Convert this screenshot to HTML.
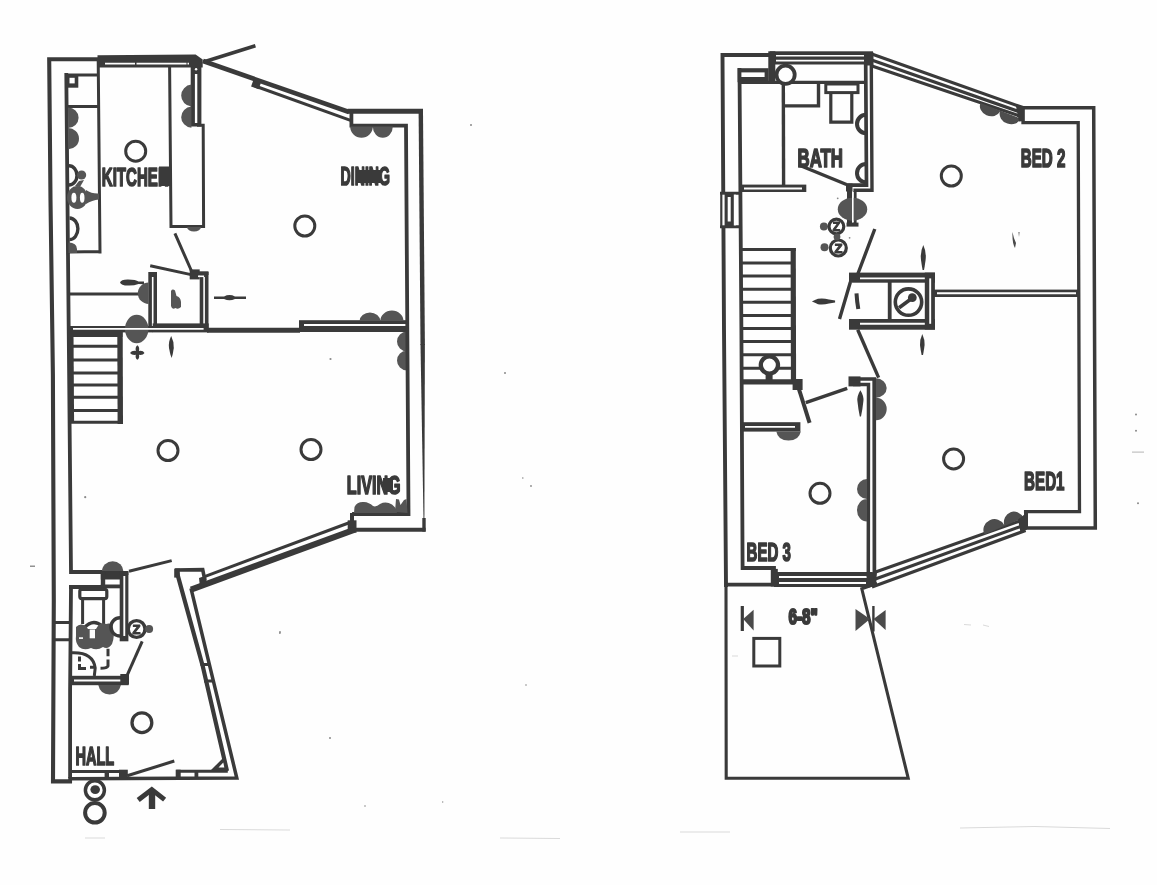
<!DOCTYPE html>
<html lang="en">
<head>
<meta charset="utf-8">
<title>Floor plans</title>
<style>
html,body{margin:0;padding:0;background:#fefefe;}
body{width:1157px;height:885px;overflow:hidden;position:relative;}
svg{position:absolute;left:0;top:0;display:block;will-change:transform;transform:translateZ(0);filter:blur(0.45px);}
.w{fill:none;stroke:#3a3a3a;stroke-width:3.8;stroke-linecap:square;stroke-linejoin:miter;}
.m{fill:none;stroke:#3a3a3a;stroke-width:3;stroke-linecap:butt;}
.t{fill:none;stroke:#3a3a3a;stroke-width:2.2;stroke-linecap:butt;}
.k{fill:none;stroke:#3a3a3a;stroke-width:4;stroke-linecap:butt;}
.b{fill:#555;stroke:none;}
.d{fill:#3a3a3a;stroke:none;}
.c{fill:#fefefe;stroke:#3a3a3a;stroke-width:3;}
.wl{fill:none;stroke:#fefefe;stroke-width:1.6;}
text{font-family:"Liberation Sans",sans-serif;font-weight:bold;font-size:25.8px;fill:#3a3a3a;stroke:#3a3a3a;stroke-width:1.7;stroke-linejoin:round;}
</style>
</head>
<body>
<svg width="1157" height="885" viewBox="0 0 1157 885">
<rect width="1157" height="885" fill="#fefefe"/>
<g id="left">
<!-- outer walls -->
<path class="w" style="stroke-width:4.1" d="M98,59.3 L49.2,59.3 L50.5,200 L52.9,375 L53.8,600 L53,781.4 L70,781.4"/>
<path class="w" style="stroke-width:3.5" d="M70,778.7 L236.8,778 L191.4,590"/>
<path class="w" d="M66.3,75 L68.9,350 L71,572 L102,572"/>
<path class="w" d="M71,587 L70.1,690 L70.1,776"/>
<!-- top wall window band -->
<path class="d" d="M97.5,55.2 L195.6,54.6 L202.7,59.4 L202.7,67.5 L97.5,67.4 Z"/>
<path class="wl" d="M105,63.6 L189,63.6" stroke-dasharray="30 1.5 50 1 8 1.5"/>
<!-- wall below corner with window -->
<rect class="d" x="190.7" y="66" width="10.7" height="60.5"/>
<path class="wl" style="stroke-width:2.4" d="M196.1,74 L196.1,123"/>
<circle cx="196.1" cy="69.3" r="1.2" fill="#fefefe"/>
<!-- left counter -->
<path class="m" d="M66,75 L99,75 M98.2,59 L100,253.5 M69,252 L100,251.6 M67,106.6 L98.5,106.6"/>
<rect class="d" x="67" y="76" width="11.3" height="11.7"/>
<rect x="69.5" y="77.8" width="5.2" height="5.6" fill="#fefefe"/>
<path class="b" d="M68,107.6 A10.6 10.2 0 0 1 68,128 A10.8 10.6 0 0 1 68.4,149.2 Z"/>
<!-- hob symbols -->
<path class="m" style="stroke-width:3.4" d="M69,165.8 A8 9.6 0 0 1 69,185"/>
<circle class="b" cx="81.6" cy="175" r="4.6"/>
<path class="b" d="M79,181 L75,186 L80,187 L84,180 Z"/>
<ellipse class="b" cx="77.4" cy="197.5" rx="10.4" ry="11.4"/>
<ellipse cx="73.9" cy="197.7" rx="2.5" ry="5" fill="#fefefe"/><ellipse cx="82.2" cy="197.7" rx="2.3" ry="5" fill="#fefefe"/>
<path class="b" d="M86,190 Q92,194 99,193.5 L99,199.5 Q92,200 86,204 Z"/>
<path class="m" style="stroke-width:3.4" d="M69.5,218 A8.4 10.8 0 0 1 69.5,239.6"/>
<path class="b" d="M68.5,242.5 A8 6 0 0 1 77,249 L77,253 L68.5,253 Z"/>
<!-- right counter -->
<path class="m" d="M169.6,66 L171,226.5 L203.6,226.5 L203.2,125.3 L197,125.3"/>
<path class="b" d="M191.4,84.6 A11.3 11 0 0 0 191.4,106.5 A11.3 10.7 0 0 0 191.4,127.8 Z"/>
<path class="b" d="M187,227 A7 4.5 0 0 0 201,227 Z"/>
<!-- ceiling lights -->
<circle class="c" cx="135.7" cy="151.2" r="10"/>
<circle class="c" cx="304.8" cy="226" r="10"/>
<circle class="c" cx="168" cy="450.5" r="10"/>
<circle class="c" cx="311" cy="449.5" r="10"/>
<circle class="c" cx="141.9" cy="722.7" r="9.9" style="stroke-width:3.3"/>
<!-- kitchen door -->
<path class="m" d="M174.9,233.4 L191.5,271 M150.2,265.7 L191,274.6"/>
<rect class="d" x="189.7" y="269.4" width="10" height="10"/>
<!-- small room -->
<rect class="d" x="148.3" y="272" width="8.7" height="58"/>
<path class="wl" d="M152.7,277 L152.7,328.5"/>
<rect class="d" x="199.7" y="272" width="8.8" height="59"/>
<path class="wl" d="M204.1,277 L204.1,328.5"/>
<rect class="d" x="190.3" y="271.3" width="18.2" height="3.7"/>
<path class="wl" d="M198,276.3 L204.1,276.3"/>
<path class="b" d="M171,291 Q172.5,288.5 175,290.5 L176.5,296 Q180.5,297 181,302 L181,307 Q178,310 175.5,308 Q172,310 171,306 Z"/>
<!-- arrows -->
<path class="d" d="M120,282.5 Q121,279.5 128,279.6 Q136,279.8 138.5,281.6 L144,281.6 L144,284.2 L138.5,284 Q134,285.8 128,285.6 Q121,285.6 120,282.5 Z"/>
<path class="d" d="M214,296.6 L224,296.4 Q229.5,293.6 235,296.4 L246,296.6 L246,299 L235,299 Q229.5,301.6 224,299 L214,299 Z"/>
<path class="d" d="M171.2,336 Q174.2,342 173.8,348 Q173,354 171.6,358 Q170,354 169,348 Q168.2,342 171.2,336 Z"/>
<path class="d" d="M137.4,345.3 Q139.8,347 139,351 Q143,350.3 144.5,352.9 Q143,355.4 139,354.8 Q139.8,358.5 137.4,359.8 Q135,358.5 135.8,354.8 Q132,355.4 130,352.9 Q132,350.3 135.8,351 Q135,347 137.4,345.3 Z"/>
<!-- shelf line and blob -->
<path class="m" d="M69,294 L140,294"/>
<path class="b" d="M148.6,282.6 A10.8 10.7 0 0 0 148.6,304 Z"/>
<!-- horizontal wall kitchen/living -->
<rect class="d" x="69" y="326" width="84" height="6.4"/>
<rect class="d" x="152.7" y="323.4" width="56" height="9"/>
<ellipse class="b" cx="136.7" cy="329" rx="11.7" ry="14.3"/>
<path class="wl" d="M73,328.9 L203.6,328.9"/>
<path class="k" style="stroke-width:5" d="M207,330.3 L300,330.3"/>
<rect class="d" x="299" y="320.2" width="107.5" height="11.8"/>
<path class="wl" style="stroke-width:2" d="M304,325 L406,325"/>
<path class="b" d="M359.6,321 A10.35 8.6 0 0 1 380.3,321 Z M380.3,321 A11.6 10.4 0 0 1 403.5,321 Z"/>
<path class="b" d="M407,331.5 A10 10 0 0 0 407,351.5 Z M407,350.5 A10 10 0 0 0 407,370.5 Z"/>
<!-- stairs -->
<path class="k" style="stroke-width:5.4" d="M120,332 L120.3,424"/>
<path class="k" style="stroke-width:5" d="M70,334.4 L122.5,334.4"/>
<path class="m" d="M70,346.2 L120,346.2 M70,360 L120,360 M70,372.9 L120,372.9 M70,385.1 L120,385.1 M70,397.3 L120,397.3 M70,410.6 L120,410.6 M70,422.2 L122.5,422.2"/>
<path class="k" style="stroke-width:5" d="M71,333 L71.6,423"/>
<!-- top-right diagonal and right walls -->
<path class="k" style="stroke-width:4.6" d="M203,61 L349,112"/>
<path class="m" style="stroke-width:3.6" d="M203.5,62 L255.4,45.7"/>
<path class="k" style="stroke-width:5" d="M347.7,111.3 L423,111.3"/>
<path class="k" style="stroke-width:4.4" d="M420.8,111 L422.7,345"/>
<path class="d" d="M420.5,344 L424.9,344 L424.4,520 L423.5,520 Z"/>
<path class="k" style="stroke-width:3.4" d="M424,518 L424,531.6"/>
<path class="k" d="M354,529.7 L425.6,529.7"/>
<path class="w" style="stroke-width:3.8" d="M351.4,112 L351.4,125.7 L406,125.7 L408.5,514 L354,514"/>
<rect class="d" x="347.7" y="520.3" width="8.8" height="12.5"/>
<path class="k" d="M352,513 L352,522"/>
<!-- upper diagonal window -->
<path class="m" d="M255,86 L350.5,120.4"/>
<rect class="d" x="252.2" y="79" width="8" height="9" transform="rotate(20 256 84)"/>
<path class="b" d="M350.2,126.4 A11.3 11.3 0 0 0 372.8,126.4 A10 11.3 0 0 0 392.8,126.4 Z"/>
<path class="b" d="M354,513 L354.5,507 Q357,501.5 364,502 Q369,502.3 373,506 Q376,507.5 380,504 Q386,501 392,504.5 Q395,507 396,509 L397,513 Z"/>
<path class="b" d="M395,512 L396,499 L399,499.5 L400.5,505 L404,500 L406.5,499 L407.5,513 Z"/>
<!-- lower diagonal window -->
<path class="m" d="M205.2,576.3 L348.5,523"/>
<path class="k" style="stroke-width:6" d="M191,589.6 L354,529.9"/>
<path class="d" d="M199,578 L206,575.5 L207,585 L200,587 Z"/>
<!-- pier -->
<path class="m" style="stroke-width:3.6" d="M175.1,570 L202.7,569.6 L204.8,580"/>
<rect class="d" x="174.2" y="568.6" width="5.6" height="9"/>
<path class="k" style="stroke-width:4.2" d="M177,572.6 L202.7,666 L227,771"/>
<path class="k" d="M204,681 L214,681 M200.5,664.5 L210,664.5" style="stroke-width:3"/>
<!-- WC area -->
<path class="b" d="M102,571.3 A10.7 10 0 0 1 123.4,571.3 Z"/>
<path class="m" d="M129,571.3 L171.7,560.6"/>
<rect class="d" x="100.8" y="571" width="27.6" height="4"/>
<rect class="d" x="119.7" y="571.3" width="8.7" height="70"/>
<path class="wl" style="stroke-width:1.9" d="M124.3,576 L124.3,636"/>
<rect class="d" x="100.8" y="571.3" width="4.4" height="17"/>
<rect class="d" x="100.8" y="575" width="20" height="4.5"/>
<rect class="d" x="100.8" y="584.5" width="20" height="3.8"/>
<path class="m" style="stroke-width:3.8" d="M69,587 L105,587"/>
<rect x="79.8" y="589.3" width="27" height="9.3" rx="2" fill="#fefefe" stroke="#3a3a3a" stroke-width="3.2"/>
<path class="m" d="M82.6,600 L82.6,624 M103.6,600 L103.6,627"/>
<path class="m" d="M53,622.4 L70,622.4 M53,639.8 L70,639.8"/>
<path class="m" style="stroke-width:3.4" d="M84,628 Q93,618 102,626"/>
<path class="b" d="M76,627 Q80,622.5 86,626 L88,629 L96,629 Q100,621 106,624 Q112,622 113,628 Q115,636 112,644 Q108,650 103,647 Q97,651 91,648 Q84,651 79,647 Q75,642 76,636 Z"/>
<rect x="89.7" y="629.5" width="5.3" height="8.8" fill="#fefefe"/>
<rect x="79" y="637.3" width="4" height="1.6" fill="#fefefe"/>
<path class="m" style="stroke-width:3.4" d="M120,617.8 A9 9 0 0 0 120,636"/>
<circle class="c" cx="136.6" cy="629" r="8.4" style="stroke-width:3.4"/>
<text x="132.6" y="633.6" style="font-size:13px;stroke-width:1.1">Z</text>
<circle class="b" cx="149.1" cy="629" r="4"/>
<path class="m" d="M127.2,675.2 L142.2,641.3"/>
<!-- basin -->
<path class="m" d="M72,652.8 Q93,652 95.2,668 L94.3,676"/>
<path class="m" d="M79.5,656.5 L79.5,661.5 M79.5,664 L79.5,668.5 L86,668.5 M108,648.8 L108,656.3 M108,659.5 L108,666 Q107,668.3 100.5,668.3 M90,667.3 L95,667.3"/>
<rect class="d" x="71" y="675.8" width="57.6" height="9.4"/>
<path class="wl" style="stroke-width:1.8" d="M74,680.5 L122,680.5"/>
<rect class="d" x="120.3" y="674" width="8.7" height="10.5"/>
<path class="b" d="M98.3,685 Q100,694 109.6,694.4 Q119,694 120.9,685 Z"/>
<!-- hall bottom wall -->
<path class="m" d="M70,771.4 L125.3,771.4 M176.3,771.3 L227.8,771.3"/>
<rect class="d" x="104.6" y="771" width="4.4" height="8"/>
<rect class="d" x="119" y="769.7" width="8.8" height="10.3"/>
<rect class="d" x="175.7" y="769.7" width="5" height="10"/>
<rect class="d" x="194.5" y="771" width="3.8" height="8"/>
<path class="m" d="M127.2,775.8 L174.3,761"/>
<path class="d" d="M211,770 L224.3,756.8 L227.5,770 Z"/>
<path d="M218.5,767.5 L223.3,762.6 L224.3,767.5 Z" fill="#fefefe"/>
<!-- outside symbols -->
<circle class="c" cx="94.9" cy="790.2" r="9.5" style="stroke-width:3.5"/>
<ellipse class="d" cx="95.2" cy="789.6" rx="4.8" ry="4.4"/>
<circle class="c" cx="94.9" cy="812.8" r="9.8" style="stroke-width:4"/>
<path d="M152,809 L152,792" fill="none" stroke="#3a3a3a" stroke-width="6.4"/>
<path d="M138.2,800 L151.8,789.6 L164.6,799.6" fill="none" stroke="#3a3a3a" stroke-width="5" stroke-linejoin="miter"/>
<!-- labels -->
<text x="101.8" y="185.6" textLength="67" lengthAdjust="spacingAndGlyphs">KITCHEN</text>
<rect class="d" x="159" y="166.5" width="11" height="19.5"/>
<text x="340.6" y="185.2" textLength="49.4" lengthAdjust="spacingAndGlyphs">DINING</text>
<rect class="d" x="357" y="170" width="24" height="13"/>
<text x="346.8" y="493.7" textLength="53.8" lengthAdjust="spacingAndGlyphs">LIVING</text>
<rect class="d" x="383" y="478" width="10" height="14"/>
<text x="75.4" y="765" textLength="38.8" lengthAdjust="spacingAndGlyphs">HALL</text>
</g>
<g id="right">
<!-- outer walls -->
<path class="w" style="stroke-width:3.9" d="M770,55 L722.5,55 L724,330 L726,585"/>
<path class="w" style="stroke-width:3.1" d="M726,585 L726.2,778.2 L908.2,778.2 L861.8,588.8 L875.6,583.8"/>
<path class="w" d="M739.5,70 L741.4,330 L742.6,568 L774,568 L774,584"/>
<path class="m" style="stroke-width:3.6" d="M726,584.6 L775,584.6"/>
<!-- top window -->
<rect class="d" x="770" y="51.3" width="103" height="13.2"/>
<path class="wl" d="M776,55.8 L866,55.8 M776,60.6 L866,60.6"/>
<rect class="d" x="768.3" y="51.3" width="7" height="30.5"/>
<!-- small rect -->
<rect class="d" x="737.6" y="68.2" width="31" height="14"/>
<rect x="741.4" y="72.4" width="23.2" height="4.6" fill="#fefefe"/>
<path class="m" style="stroke-width:3.2" d="M739,82.4 L866,82.4"/>
<circle class="c" cx="785.6" cy="74.8" r="9.1" style="stroke-width:3.8"/>
<!-- bath -->
<path class="m" style="stroke-width:3.4" d="M783.3,82 L783.6,186"/>
<path class="m" style="stroke-width:3.4" d="M784,105.9 L818.5,105.9 L818.5,82"/>
<rect x="825.8" y="84" width="32.2" height="8.6" fill="#fefefe" stroke="#3a3a3a" stroke-width="3"/>
<path class="m" style="stroke-width:3.2" d="M830.8,93 L830.8,122.2 L851.8,122.2 L851.8,93"/>
<rect class="d" x="739" y="184.6" width="67.3" height="7.4"/>
<path class="wl" style="stroke-width:1.9" d="M744,188.5 L802,188.5"/>
<!-- bath right wall -->
<path class="m" style="stroke-width:3.7" d="M865.7,64 L866.5,185.1 L846.5,185.1"/>
<path class="m" style="stroke-width:3.4" d="M871.3,64 L872,190.2 L853.4,190.2"/>
<path class="k" d="M866,114.8 A9 9.2 0 0 0 866,133.2 M866,164 A9 9.2 0 0 0 866,182.4" style="stroke-width:4"/>
<path class="m" style="stroke-width:3.5" d="M798.8,165 L846.5,184.5"/>
<rect class="d" x="846" y="183.5" width="6.5" height="8"/>
<rect class="d" x="847" y="185.8" width="5" height="38.2"/>
<rect class="d" x="853.6" y="191" width="3" height="34"/>
<rect class="d" x="846.5" y="222.6" width="12" height="4"/>
<ellipse class="b" cx="852.5" cy="209.2" rx="14.7" ry="11.5"/>
<path class="wl" style="stroke-width:1.6" d="M852.8,192 L852.8,222"/>
<!-- Z circles -->
<circle class="b" cx="823.9" cy="226.5" r="4"/><circle class="b" cx="824.5" cy="247.2" r="4"/>
<circle class="c" cx="836.4" cy="226.5" r="7.4" style="stroke-width:3.2"/>
<circle class="c" cx="838.3" cy="248" r="8" style="stroke-width:3.2"/>
<text x="832.8" y="230.8" style="font-size:12px;stroke-width:1.1">Z</text>
<text x="834.4" y="252.6" style="font-size:13px;stroke-width:1.1">Z</text>

<circle class="b" cx="837" cy="236.8" r="3.4"/>
<!-- left wall window -->
<path class="m" d="M720,193.2 L739,193.2 M720,226.8 L739,226.8"/>
<rect x="719" y="194.7" width="17" height="30.6" fill="#fefefe"/>
<path class="t" style="stroke-width:2.2" d="M721.3,192 L721.3,228"/>
<rect class="d" x="724.6" y="194" width="9.2" height="32"/>
<rect x="727.7" y="197" width="3" height="24.5" fill="#fefefe"/>
<!-- diagonal window top -->
<path class="m" style="stroke-width:3.2" d="M872.5,54.2 L1023,107.6 M871.6,60 L1022,112.6 M870.5,65.6 L1021,116.4"/>
<rect class="d" x="864" y="52.5" width="9.5" height="13"/>
<path class="w" style="stroke-width:3.5" d="M1022,107.8 L1093.7,107.8 L1095.3,528 L1025.6,528"/>
<path class="w" style="stroke-width:3.3" d="M1023,107.8 L1023,122.6 L1078.2,122.6 L1079.5,511.6 L1025.6,511.6"/>
<path class="k" d="M1026,511 L1026,529"/>
<path class="b" style="fill:#4d4d4d" d="M980.6,103 A10.4 8.6 19.3 0 0 1000,111.6 A10.6 8.8 19.3 0 0 1020.5,118.6 Z"/>
<path class="d" d="M1015.5,104 L1024.5,107 L1024.5,121 L1019,121.5 Z"/>
<!-- lights -->
<circle class="c" cx="951.3" cy="176" r="10"/>
<circle class="c" cx="953.6" cy="458.9" r="10"/>
<circle class="c" cx="820" cy="493.3" r="10"/>
<!-- stairs -->
<path class="k" style="stroke-width:5.2" d="M793.2,248 L793.5,382"/>
<path class="m" d="M741,249.6 L795.8,249.6 M741,262.9 L793,262.9 M741,276.1 L793,276.1 M741,289.2 L793,289.2 M741,302.3 L793,302.3 M741,315.4 L793,315.4 M741,328.4 L793,328.4 M741,341.4 L793,341.4 M741,354.7 L793,354.7 M741,368.2 L793,368.2"/>
<path class="k" style="stroke-width:5.2" d="M741,381.8 L796,381.8"/>
<circle class="c" cx="769.4" cy="365" r="8.6" style="stroke-width:4.3"/>
<rect class="d" x="765.6" y="373" width="7" height="7"/>
<rect class="d" x="792.6" y="379" width="10" height="11"/>
<path class="k" d="M798.9,389 L809.6,422.8"/>
<path class="m" style="stroke-width:3.5" d="M805.8,402.7 L847.2,388.3"/>
<rect class="d" x="741.4" y="422.2" width="59" height="9.4"/>
<path class="wl" style="stroke-width:1.7" d="M745,426.8 L795,426.8"/>
<path class="b" d="M776.3,431.4 Q778,440.5 788.5,440.6 Q799,440.5 800.8,431.4 Z"/>
<!-- closet -->
<rect class="d" x="849" y="272.6" width="86" height="10.1"/>
<path class="wl" style="stroke-width:1.7" d="M860,278.4 L929.5,278.4"/>
<rect class="d" x="849" y="319" width="86" height="10.7"/>
<path class="wl" style="stroke-width:1.9" d="M860,323.8 L930,323.8"/>
<rect class="d" x="924.8" y="272.6" width="10.1" height="57"/>
<path class="wl" style="stroke-width:1.9" d="M930.2,278.4 L930.2,323.8"/>
<path class="k" style="stroke-width:3.8" d="M889.7,280 L889.7,320"/>
<circle class="c" cx="908.5" cy="302.1" r="13.2" style="stroke-width:3.6"/>
<path d="M899.1,307.8 L915,296" stroke="#3a3a3a" stroke-width="3.6" fill="none"/>
<circle class="d" cx="912.3" cy="297.7" r="4.4"/>
<path class="m" style="stroke-width:3.4" d="M874.8,229 L858,273.5 M850.4,282 L839.5,319"/>
<path class="m" style="stroke-width:3.4" d="M857.7,329.7 L878.6,377.6"/>
<path class="k" d="M856.5,293.3 Q857,302 858.3,309"/>
<!-- partition -->
<rect class="d" x="934" y="289.6" width="145" height="7.4"/>
<path class="wl" style="stroke-width:2" d="M937,293.3 L1076,293.3"/>
<!-- bed3 wall -->
<rect class="d" x="848.5" y="376.4" width="12" height="10"/>
<path class="m" style="stroke-width:3.7" d="M849,379 L874.2,379 L874.4,575"/>
<path class="m" style="stroke-width:3.5" d="M853,384.5 L868.5,384.5 L868.3,575"/>
<path class="b" d="M876,378.3 A10.7 9.7 0 0 1 876,397.7 A10.7 11.3 0 0 1 876,420.3 Z"/>
<path class="b" d="M867,479 A10 10 0 0 0 867,499 A10 11.3 0 0 0 867,521.6 Z"/>
<!-- arrows -->
<path class="d" d="M811.9,301.5 Q816,299.6 818,298.8 Q823,298 829,299.4 L835.1,300.5 L835.1,302.6 L829,303.6 Q823,305 818,304.2 Q816,303.4 811.9,301.5 Z"/>
<path class="d" d="M923.3,245 Q926.6,252 925.6,260 Q924.8,266 924,270 L922.6,270 Q921.8,266 921,260 Q920,252 923.3,245 Z"/>
<path class="d" d="M922.3,334 Q925,340 924.6,345 Q924,350 923,355 L921.6,355 Q920.6,350 920,345 Q919.6,340 922.3,334 Z"/>
<path class="d" d="M860.4,390.2 Q864,396 863.4,401 Q862.6,409 861,416.5 L859.8,416.5 Q858.2,409 857.4,401 Q856.8,396 860.4,390.2 Z"/>
<!-- bottom window bed3 -->
<rect class="d" x="774" y="572" width="98" height="15"/>
<path class="wl" style="stroke-width:2.2" d="M779,577 L868,577 M779,583 L866,583"/>
<rect class="d" x="770.8" y="568.9" width="7" height="17.6"/>
<path class="d" d="M866,573 L877,571.5 L876,585 L868,588 Z"/>
<!-- diagonal window bottom -->
<path class="m" style="stroke-width:3.2" d="M875.6,572 L1021,520.6 M874,579.4 L1023.5,525.4 M872,587 L1025.6,530.4"/>
<path class="b" style="fill:#4d4d4d" d="M984.4,534.4 A10.6 10.2 -19.5 0 1 1004.2,525 A10.4 11.4 -19.5 0 1 1023.6,518 Z"/>
<path class="d" d="M1018,519.5 L1027,512.6 L1027,529.4 L1020.5,532.4 Z"/>
<!-- yard symbols -->
<rect x="753.8" y="638.4" width="26" height="27.6" fill="none" stroke="#3a3a3a" stroke-width="3"/>
<path class="m" style="stroke-width:3.2" d="M742.3,606 L742.3,631"/>
<path class="b" style="fill:#4a4a4a" d="M743.2,619 L753.6,609.7 L753.6,630.4 Z"/>
<path class="b" style="fill:#4a4a4a" d="M855.5,609 L870,619 L855.5,631 Z"/>
<path class="m" style="stroke-width:2.4" d="M873.4,606 L873.4,631.5"/>
<path class="b" style="fill:#4a4a4a" d="M873.5,619 L885.6,610 L885.6,630 Z"/>
<text x="788.4" y="624.4" textLength="29.5" lengthAdjust="spacingAndGlyphs" style="font-size:22.5px;stroke-width:2.2">6-8"</text>
<!-- labels -->
<text x="797.6" y="166.8" textLength="45.4" lengthAdjust="spacingAndGlyphs">BATH</text>
<text x="1020.8" y="166.7" textLength="44.6" lengthAdjust="spacingAndGlyphs">BED 2</text>
<text x="1024.1" y="490.1" textLength="40.4" lengthAdjust="spacingAndGlyphs">BED1</text>
<text x="746.6" y="560.6" textLength="44.2" lengthAdjust="spacingAndGlyphs">BED 3</text>
</g>
<g id="specks" fill="#8a8a8a">
<circle cx="471" cy="125" r="1"/><circle cx="505" cy="373" r="1"/><circle cx="522.8" cy="478" r="0.8"/><circle cx="531" cy="486" r="0.9"/>
<circle cx="280" cy="632" r="0.9"/><circle cx="330" cy="738" r="1"/><circle cx="526" cy="685" r="0.8"/><circle cx="365" cy="806" r="0.8"/>
<circle cx="442.7" cy="802" r="0.7"/><circle cx="330.5" cy="359" r="1.1"/><circle cx="85.2" cy="497.2" r="1.1"/><circle cx="279.9" cy="633" r="0.9"/>
<circle cx="1136" cy="414.4" r="1"/><circle cx="1136" cy="430.7" r="1"/><circle cx="1138" cy="503.3" r="1"/><circle cx="837.7" cy="198.3" r="0.9"/><circle cx="849.6" cy="237.8" r="0.9"/>
<rect x="1132" y="451.6" width="12" height="1" fill="#b5b5b5"/>
<rect x="30" y="565.6" width="5" height="1.2" fill="#777"/>
<path d="M1012.5,232 Q1013.5,238 1016,243 L1015,248 Q1012,243 1012.5,232 Z M1018.5,232 L1019.5,232 L1019,237 Z" fill="#4a4a4a"/>
<g fill="none" stroke="#dadada" stroke-width="1">
<path d="M85,838 L105,838 M220,829.5 L290,830 M500,838 L560,838.5 M680,832 L730,832 M960,828 L1035,826.5 L1110,828.5"/>
<path d="M964,624.5 L971,625 M983,625 L989,626.5 M732,656 L738,656"/>
</g>
</g>
</svg>
</body>
</html>
